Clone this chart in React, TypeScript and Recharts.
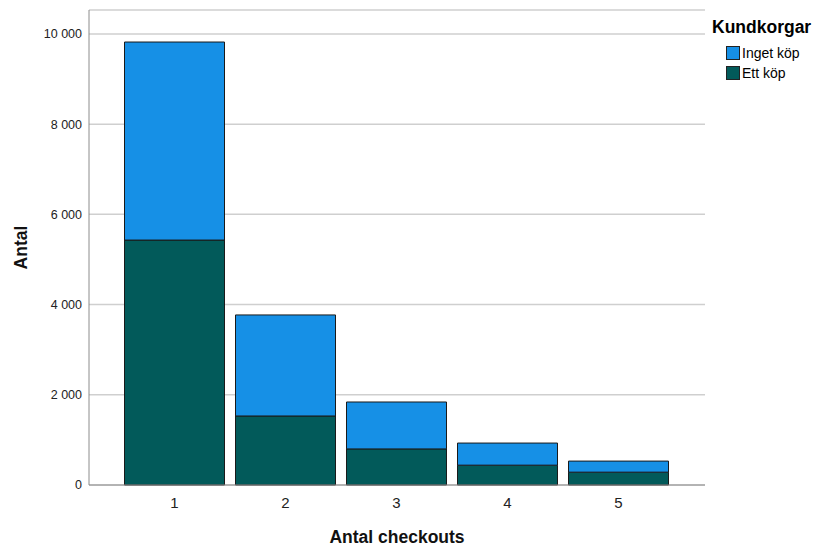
import { BarChart, Bar, XAxis, YAxis, CartesianGrid, Legend } from 'recharts'

const checkouts = ['1', '2', '3', '4', '5']
const ettKop = [5430, 1530, 800, 440, 285]
const ingetKop = [4390, 2240, 1040, 490, 245]
const yTicks = [0, 2000, 4000, 6000, 8000, 10000]

const data = checkouts.map((c, i) => ({ name: c, ett: ettKop[i], inget: ingetKop[i] }))

const font = '"Liberation Sans", Arial, sans-serif'
const BLUE = '#1690e6'
const TEAL = '#025a5a'

const fmt = (v: number) => String(v).replace(/\B(?=(\d{3})+(?!\d))/g, ' ')

function LegendBox() {
  const items = [
    { label: 'Inget köp', color: BLUE },
    { label: 'Ett köp', color: TEAL },
  ]
  return (
    <div style={{ fontFamily: font, color: '#000' }}>
      <div style={{ fontSize: 17.5, fontWeight: 'bold', marginLeft: 7, lineHeight: '20px' }}>Kundkorgar</div>
      <div style={{ marginTop: 6, marginLeft: 21 }}>
        {items.map((it) => (
          <div key={it.label} style={{ display: 'flex', alignItems: 'center', height: 20, fontSize: 14 }}>
            <span style={{ width: 12, height: 12, background: it.color, border: '1px solid #222', marginRight: 2, display: 'inline-block' }} />
            <span>{it.label}</span>
          </div>
        ))}
      </div>
    </div>
  )
}

export default function App() {
  return (
    <div style={{ position: 'absolute', left: 0, top: 0, background: '#fff' }}>
      <BarChart width={818} height={546} data={data} margin={{ top: 10, right: 113, left: 0, bottom: 0 }} barCategoryGap={5.5}>
        <CartesianGrid vertical={false} stroke="#cfcfcf" strokeWidth={1.5} />
        <XAxis
          dataKey="name"
          height={61}
          padding={{ left: 30, right: 31 }}
          stroke="#8c8c8c"
          tickLine={false}
          tickSize={10}
          tick={{ fill: '#222', fontSize: 15, fontFamily: font }}
          label={{ value: 'Antal checkouts', position: 'insideBottom', offset: 3, fill: '#111', fontSize: 17.5, fontWeight: 'bold', fontFamily: font }}
        />
        <YAxis
          width={89}
          domain={[0, 10530]}
          ticks={yTicks}
          tickFormatter={fmt}
          stroke="#8c8c8c"
          tickLine={false}
          tickSize={5}
          tick={{ fill: '#222', fontSize: 12.5, fontFamily: font }}
          label={{ value: 'Antal', angle: -90, position: 'center', dx: -24, fill: '#111', fontSize: 17.5, fontWeight: 'bold', fontFamily: font }}
        />
        <Legend
          layout="horizontal"
          verticalAlign="middle"
          align="center"
          wrapperStyle={{ left: 705, top: 17, width: 113 }}
          content={() => <LegendBox />}
        />
        <Bar dataKey="ett" name="Ett köp" stackId="a" fill={TEAL} stroke="#1a1a1a" strokeWidth={1} isAnimationActive={false} />
        <Bar dataKey="inget" name="Inget köp" stackId="a" fill={BLUE} stroke="#1a1a1a" strokeWidth={1} isAnimationActive={false} />
      </BarChart>
    </div>
  )
}
